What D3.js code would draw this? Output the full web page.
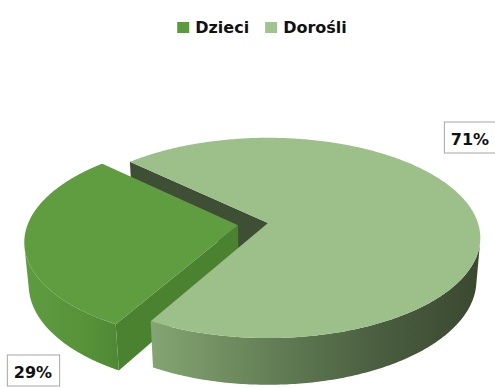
<!DOCTYPE html>
<html>
<head>
<meta charset="utf-8">
<script src="https://cdn.jsdelivr.net/npm/d3@7"></script>
<style>
  html, body { margin: 0; padding: 0; background: #ffffff; }
  svg { display: block; }
</style>
</head>
<body>
<svg id="chart" width="495" height="388"></svg>
<script>
// ---- data ----
const categories = ["Dzieci", "Dorośli"];
const values = [29, 71];
const firstSliceAngle = 209.1;      // degrees, clockwise from 12 o'clock
const explodeBy = [0.144, 0];       // radial offset of each slice (pie radius = 1)

// ---- styles ----
const legendColors = ["#5c9a3e", "#a0c38f"];
const topColors = ["#5f9d40", "#9dc08b"];
const radialWallColors = ["#4b822f", "#3f4f35"];
const outerWallStops = [
  [[0, "#5e9b41"], [0.6, "#589339"], [1, "#4f8834"]],
  [[0, "#84a673"], [0.2, "#739063"], [0.45, "#5c7650"], [0.7, "#4a5d3f"], [1, "#3a4830"]]
];

// ---- 3D view ----
const W = 495, H = 388;
const view = { cx: 268, cy: 223, focal: 1247, dist: 5.94, tilt: 27.8 * Math.PI / 180, thick: 0.23 };
const sinT = Math.sin(view.tilt), cosT = Math.cos(view.tilt);

// world: X right, Z toward viewer, h up; top face at h = 0
function project(X, Z, h) {
  const down = Z * sinT - h * cosT;
  const depth = view.dist - (Z * cosT + h * sinT);
  return [view.cx + view.focal * X / depth, view.cy + view.focal * down / depth];
}
const camZ = view.dist * cosT;

const svg = d3.select("#chart");
const defs = svg.append("defs");

const total = d3.sum(values);
const pct = d3.format(".0%");
const start = firstSliceAngle * Math.PI / 180;
const arcs = d3.pie().sort(null).value(d => d)
  .startAngle(start).endAngle(start + 2 * Math.PI)(values);

const line = d3.line();
const gRadial = svg.append("g");
const gOuter = svg.append("g");
const gTop = svg.append("g");

const radialFaces = [];

arcs.forEach((a, i) => {
  const mid = (a.startAngle + a.endAngle) / 2;
  const ox = explodeBy[i] * Math.sin(mid), oz = -explodeBy[i] * Math.cos(mid);
  const rim = (phi, h) => project(ox + Math.sin(phi), oz - Math.cos(phi), h);
  const centre = h => project(ox, oz, h);
  const N = 360;
  const angles = d3.range(N + 1).map(k => a.startAngle + (a.endAngle - a.startAngle) * k / N);

  // top face
  const topPts = [centre(0)].concat(angles.map(p => rim(p, 0)));
  gTop.append("path")
    .attr("d", line(topPts) + "Z")
    .attr("fill", topColors[i]);

  // outer wall: only the part turned toward the camera
  const faces = p => -ox * Math.sin(p) - (camZ - oz) * Math.cos(p) - 1 > 0;
  let runs = [], cur = null;
  angles.forEach(p => {
    if (faces(p)) { if (!cur) { cur = []; runs.push(cur); } cur.push(p); }
    else cur = null;
  });
  runs.forEach((run, r) => {
    const topEdge = run.map(p => rim(p, 0));
    const botEdge = run.map(p => rim(p, -view.thick)).reverse();
    const xs = topEdge.map(q => q[0]).concat(botEdge.map(q => q[0]));
    const gid = `wall-${i}-${r}`;
    const grad = defs.append("linearGradient").attr("id", gid)
      .attr("gradientUnits", "userSpaceOnUse")
      .attr("x1", d3.min(xs)).attr("x2", d3.max(xs)).attr("y1", 0).attr("y2", 0);
    outerWallStops[i].forEach(s => grad.append("stop").attr("offset", s[0]).attr("stop-color", s[1]));
    gOuter.append("path")
      .attr("d", line(topEdge.concat(botEdge)) + "Z")
      .attr("fill", `url(#${gid})`);
  });

  // radial (cut) walls
  [[a.startAngle, a.startAngle - Math.PI / 2], [a.endAngle, a.endAngle + Math.PI / 2]].forEach(([phi, nAng]) => {
    const px = ox + 0.5 * Math.sin(phi), pz = oz - 0.5 * Math.cos(phi);
    const dot = -px * Math.sin(nAng) - (camZ - pz) * Math.cos(nAng);
    if (dot <= 0) return;
    const pts = [centre(0), rim(phi, 0), rim(phi, -view.thick), centre(-view.thick)];
    radialFaces.push({ pts, depth: pz, color: radialWallColors[i] });
  });
});

radialFaces.sort((p, q) => p.depth - q.depth).forEach(f => {
  gRadial.append("path").attr("d", line(f.pts) + "Z").attr("fill", f.color);
});

// ---- data labels ----
const labelFont = "'DejaVu Sans', Verdana, sans-serif";
const labelCentre = [[33, 370.5], [470, 137.5]];
arcs.forEach((a, i) => {
  const g = svg.append("g");
  const t = g.append("text")
    .attr("x", labelCentre[i][0]).attr("y", labelCentre[i][1] + 7.5)
    .attr("text-anchor", "middle")
    .attr("font-family", labelFont).attr("font-weight", "bold").attr("font-size", 16)
    .attr("fill", "#111")
    .text(pct(a.value / total));
  const w = t.node().getComputedTextLength() + 14;
  g.insert("rect", "text")
    .attr("x", labelCentre[i][0] - w / 2 + 0.5).attr("y", labelCentre[i][1] - 15.5)
    .attr("width", w).attr("height", 31)
    .attr("fill", "#fff").attr("stroke", "#a6a6a6").attr("stroke-width", 1);
});

// ---- legend ----
const legend = svg.append("g");
let x = 0;
categories.forEach((c, i) => {
  const it = legend.append("g").attr("transform", `translate(${x},0)`);
  it.append("rect").attr("x", 0).attr("y", 22).attr("width", 12).attr("height", 11).attr("fill", legendColors[i]);
  const t = it.append("text").attr("x", 18).attr("y", 33)
    .attr("font-family", labelFont).attr("font-weight", "bold").attr("font-size", 16)
    .attr("fill", "#111").text(c);
  x += 18 + t.node().getComputedTextLength() + 16;
});
const lw = x - 16;
legend.attr("transform", `translate(${262 - lw / 2},0)`);
</script>
</body>
</html>
